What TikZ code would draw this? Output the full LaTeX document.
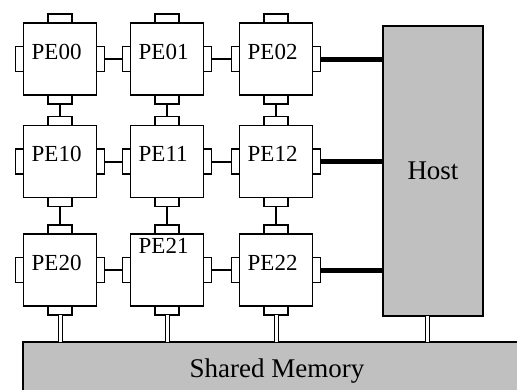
\documentclass[tikz,border=0pt]{standalone}
\usepackage{fontspec}
\setmainfont{Liberation Serif}
\definecolor{shade}{RGB}{192,192,192}
\begin{document}
\begin{tikzpicture}[x=1pt,y=-1pt,
  pe/.style={draw, line width=1.2pt, minimum width=73pt, minimum height=72pt, inner sep=0pt, outer sep=0pt},
  pename/.style={anchor=base west, inner sep=0pt, font=\fontsize{23}{27}\selectfont},
  porttop/.style={draw, fill=white, line width=1.2pt, minimum width=24pt, minimum height=9pt, inner sep=0pt, outer sep=0pt, anchor=south},
  portbot/.style={porttop, anchor=north},
  portleft/.style={draw, fill=white, line width=1.2pt, minimum width=8pt, minimum height=25pt, inner sep=0pt, outer sep=0pt, anchor=east},
  portright/.style={portleft, anchor=west},
  link/.style={line width=2pt},
  hostlink/.style={line width=5pt},
  bus/.style={double, line width=1pt, double distance=3pt},
  block/.style={draw, fill=shade, line width=1.2pt, inner sep=0pt, outer sep=0pt, font=\fontsize{27}{31}\selectfont}]

\useasboundingbox (0,0) rectangle (517,389);

% host and memory
\node[block, minimum width=100pt, minimum height=290pt] (host) at (433,171) {Host};
\node[block, minimum width=508pt, minimum height=58pt] (mem) at (277,371) {Shared Memory};

% row 0
\node[pe] (p00) at (60,59) {};
\node[pename] (t00) at ([xshift=8pt]p00.west) {PE00};
\node[porttop] (p00n) at (p00.north) {}; \node[portbot] (p00s) at (p00.south) {};
\node[portleft] (p00w) at (p00.west) {}; \node[portright] (p00e) at (p00.east) {};

\node[pe] (p01) at (167,59) {};
\node[pename] (t01) at ([xshift=8pt]p01.west) {PE01};
\node[porttop] (p01n) at (p01.north) {}; \node[portbot] (p01s) at (p01.south) {};
\node[portleft] (p01w) at (p01.west) {}; \node[portright] (p01e) at (p01.east) {};

\node[pe] (p02) at (276,59) {};
\node[pename] (t02) at ([xshift=8pt]p02.west) {PE02};
\node[porttop] (p02n) at (p02.north) {}; \node[portbot] (p02s) at (p02.south) {};
\node[portleft] (p02w) at (p02.west) {}; \node[portright] (p02e) at (p02.east) {};

% row 1
\node[pe] (p10) at (60,161.5) {};
\node[pename] (t10) at ([xshift=8pt]p10.west) {PE10};
\node[porttop] (p10n) at (p10.north) {}; \node[portbot] (p10s) at (p10.south) {};
\node[portleft] (p10w) at (p10.west) {}; \node[portright] (p10e) at (p10.east) {};

\node[pe] (p11) at (167,161.5) {};
\node[pename] (t11) at ([xshift=8pt]p11.west) {PE11};
\node[porttop] (p11n) at (p11.north) {}; \node[portbot] (p11s) at (p11.south) {};
\node[portleft] (p11w) at (p11.west) {}; \node[portright] (p11e) at (p11.east) {};

\node[pe] (p12) at (276,161.5) {};
\node[pename] (t12) at ([xshift=8pt]p12.west) {PE12};
\node[porttop] (p12n) at (p12.north) {}; \node[portbot] (p12s) at (p12.south) {};
\node[portleft] (p12w) at (p12.west) {}; \node[portright] (p12e) at (p12.east) {};

% row 2
\node[pe] (p20) at (60,270) {};
\node[pename] (t20) at ([xshift=8pt]p20.west) {PE20};
\node[porttop] (p20n) at (p20.north) {}; \node[portbot] (p20s) at (p20.south) {};
\node[portleft] (p20w) at (p20.west) {}; \node[portright] (p20e) at (p20.east) {};

\node[pe] (p21) at (167,270) {};
\node[pename] (t21) at ([xshift=8pt,yshift=17pt]p21.west) {PE21};
\node[porttop] (p21n) at (p21.north) {}; \node[portbot] (p21s) at (p21.south) {};
\node[portleft] (p21w) at (p21.west) {}; \node[portright] (p21e) at (p21.east) {};

\node[pe] (p22) at (276,270) {};
\node[pename] (t22) at ([xshift=8pt]p22.west) {PE22};
\node[porttop] (p22n) at (p22.north) {}; \node[portbot] (p22s) at (p22.south) {};
\node[portleft] (p22w) at (p22.west) {}; \node[portright] (p22e) at (p22.east) {};

% mesh links
\draw[link] (p00e) -- (p01w);
\draw[link] (p01e) -- (p02w);
\draw[link] (p10e) -- (p11w);
\draw[link] (p11e) -- (p12w);
\draw[link] (p20e) -- (p21w);
\draw[link] (p21e) -- (p22w);

\draw[link] (p00s) -- (p10n);
\draw[link] (p01s) -- (p11n);
\draw[link] (p02s) -- (p12n);
\draw[link] (p10s) -- (p20n);
\draw[link] (p11s) -- (p21n);
\draw[link] (p12s) -- (p22n);

% host links
\draw[hostlink] (p02e.east) -- (p02e.east -| host.west);
\draw[hostlink] (p12e.east) -- (p12e.east -| host.west);
\draw[hostlink] (p22e.east) -- (p22e.east -| host.west);

% memory bus
\draw[bus] (p20s.south) -- (p20s.south |- mem.north);
\draw[bus] (p21s.south) -- (p21s.south |- mem.north);
\draw[bus] (p22s.south) -- (p22s.south |- mem.north);
\draw[bus] ([xshift=-6pt]host.south) -- ([xshift=-6pt]host.south |- mem.north);

\end{tikzpicture}
\end{document}
